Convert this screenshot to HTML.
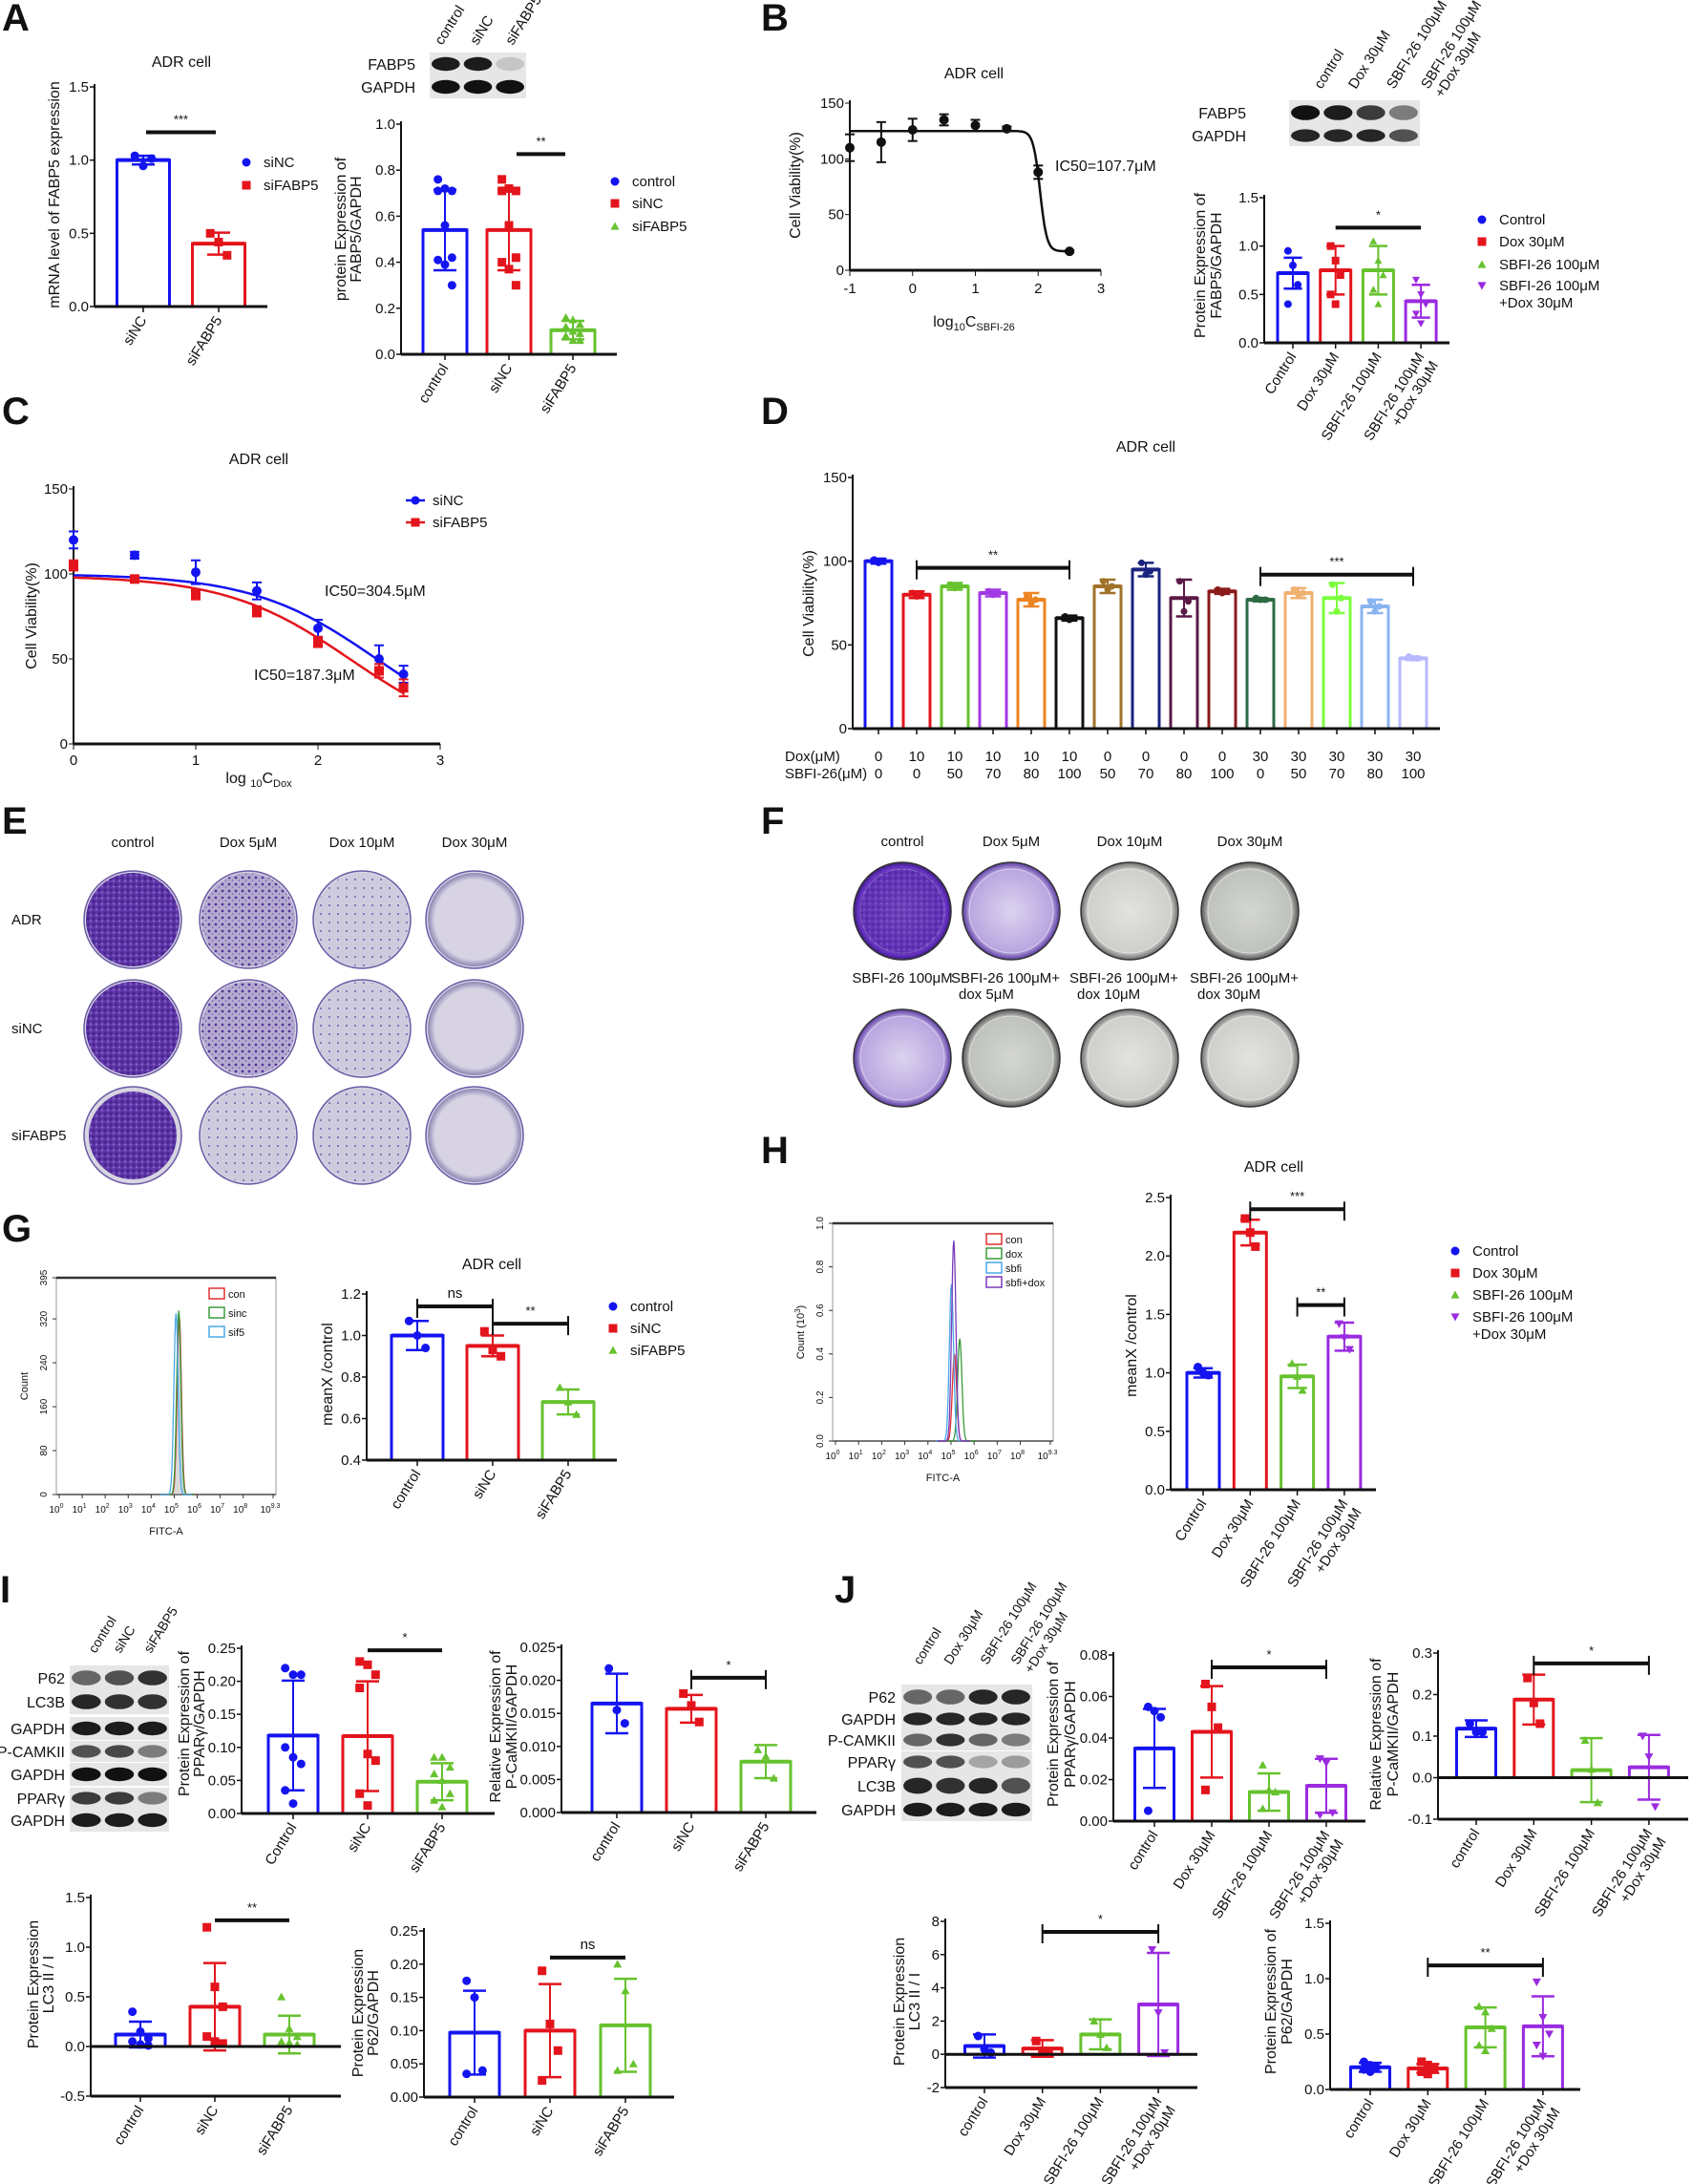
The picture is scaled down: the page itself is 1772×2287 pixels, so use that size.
<!DOCTYPE html>
<html><head><meta charset="utf-8"><style>
html,body{margin:0;padding:0;background:#fff}
svg{display:block}
text{font-family:"Liberation Sans Narrow","Liberation Sans",Arial,sans-serif;fill:#111}
</style></head><body>
<svg id="fig" xmlns="http://www.w3.org/2000/svg" width="1772" height="2287" viewBox="0 0 1772 2287">
<defs>
<pattern id="dotsDense" width="6" height="6" patternUnits="userSpaceOnUse"><rect width="6" height="6" fill="#5a2fa8"/><circle cx="2" cy="2" r="1.6" fill="#3d1a86"/><circle cx="5" cy="4.5" r="1" fill="#8d6cc8"/></pattern>
<pattern id="dotsMid" width="7" height="7" patternUnits="userSpaceOnUse"><rect width="7" height="7" fill="#b3a9cf"/><circle cx="2" cy="2" r="1.4" fill="#4c2b94"/><circle cx="5.5" cy="5" r="0.8" fill="#6b4fb0"/></pattern>
<pattern id="dotsLight" width="9" height="9" patternUnits="userSpaceOnUse"><rect width="9" height="9" fill="#cfcadf"/><circle cx="3" cy="3" r="1" fill="#6a54a8"/></pattern>
<radialGradient id="plateE0" cx="50%" cy="50%" r="50%"><stop offset="85%" stop-color="#d7d3e3"/><stop offset="100%" stop-color="#8d86b4"/></radialGradient>
<radialGradient id="fPurple" cx="50%" cy="50%" r="50%"><stop offset="0%" stop-color="#8a5ad6"/><stop offset="90%" stop-color="#6b35c8"/><stop offset="100%" stop-color="#3a1a80"/></radialGradient>
<radialGradient id="fLav" cx="50%" cy="50%" r="50%"><stop offset="0%" stop-color="#dcd3ef"/><stop offset="85%" stop-color="#b9a6e0"/><stop offset="100%" stop-color="#5a3aa0"/></radialGradient>
<radialGradient id="fGray" cx="50%" cy="50%" r="50%"><stop offset="0%" stop-color="#e2e2e0"/><stop offset="85%" stop-color="#cfcfcc"/><stop offset="100%" stop-color="#6a6a6a"/></radialGradient>
<radialGradient id="fGray2" cx="50%" cy="50%" r="50%"><stop offset="0%" stop-color="#d4d6d2"/><stop offset="85%" stop-color="#bfc2bd"/><stop offset="100%" stop-color="#555"/></radialGradient>
</defs>
</svg>
<script>
// ================= DATA =================
const A1_cats=['siNC','siFABP5'];
const A1_vals=[1.0,0.43];
const A1_errs=[0.03,0.075];
const A1_pts=[[1.03,0.96,1.01],[0.5,0.44,0.35]];
const A1_ticks=[0,0.5,1.0,1.5];

const A2_cats=['control','siNC','siFABP5'];
const A2_vals=[0.54,0.54,0.105];
const A2_errs=[0.175,0.175,0.04];
const A2_pts=[[0.76,0.72,0.71,0.71,0.56,0.42,0.41,0.39,0.3],[0.76,0.72,0.71,0.71,0.56,0.42,0.40,0.37,0.3],[0.16,0.15,0.13,0.12,0.1,0.09,0.08,0.06,0.06]];
const A2_ticks=[0,0.2,0.4,0.6,0.8,1.0];

const B1_x=[-1,-0.5,0,0.5,1,1.5,2,2.5];
const B1_y=[110,115,126,135,130,127,88,17];
const B1_err=[12,18,10,5,5,2,6,1];
const B1_fit=[125,17,2.03,8];   // top, bottom, logIC50, hill
const B1_xticks=[-1,0,1,2,3];
const B1_yticks=[0,50,100,150];

const B2_cats=['Control','Dox 30μM','SBFI-26 100μM','SBFI-26 100μM\n+Dox 30μM'];
const B2_vals=[0.72,0.75,0.75,0.43];
const B2_errs=[0.16,0.25,0.25,0.17];
const B2_pts=[[0.95,0.8,0.6,0.4],[1.0,0.85,0.7,0.5,0.4],[1.05,0.85,0.7,0.55,0.4],[0.65,0.5,0.4,0.3,0.2]];
const B2_ticks=[0,0.5,1.0,1.5];

const C_x=[0,0.5,1,1.5,2,2.5,2.7];
const C_siNC=[120,111,101,90,68,50,41];
const C_siNCerr=[5,2,7,5,5,8,5];
const C_siF=[105,97,88,78,60,43,33];
const C_siFerr=[3,1,3,3,3,4,5];
const C_top=[100,99];
const C_logIC50=[2.48,2.27];
const C_hill=[0.85,0.85];
const C_xticks=[0,1,2,3];
const C_yticks=[0,50,100,150];

const D_dox=['0','10','10','10','10','10','0','0','0','0','30','30','30','30','30'];
const D_sbfi=['0','0','50','70','80','100','50','70','80','100','0','50','70','80','100'];
const D_vals=[100,80,85,81,77,66,85,95,78,82,77,81,78,73,42];
const D_errs=[1.5,2,2,2,4,1.5,4,4,11,1.5,1,3,9,4,1];
const D_pts=[[101,99,100],[81,79,80],[86,84,85],[82,80,81],[79,75,77],[67,65,66],[88,83,85],[99,92,94],[88,70,76],[83,81,82],[78,77,77],[83,80,81],[86,70,78],[76,70,73],[43,42,42]];
const D_ticks=[0,50,100,150];

const G_cats=['control','siNC','siFABP5'];
const G_vals=[1.0,0.95,0.68];
const G_errs=[0.07,0.05,0.06];
const G_pts=[[1.07,1.0,0.94],[1.02,0.93,0.9],[0.75,0.68,0.62]];
const G_ticks=[0.4,0.6,0.8,1.0,1.2];
const G_histPos=[5.22,5.2,5.08];
const G_histH=[325,335,330];

const H_cats=['Control','Dox 30μM','SBFI-26 100μM','SBFI-26 100μM\n+Dox 30μM'];
const H_vals=[1.0,2.2,0.97,1.31];
const H_errs=[0.04,0.11,0.1,0.12];
const H_pts=[[1.05,1.0,0.98],[2.32,2.2,2.08],[1.08,0.97,0.85],[1.42,1.3,1.2]];
const H_ticks=[0,0.5,1.0,1.5,2.0,2.5];
const H_histPos=[5.15,5.38,5.02,5.12];
const H_histH=[0.4,0.47,0.72,0.92];

const I1_cats=['Control','siNC','siFABP5'];
const I1_vals=[0.118,0.117,0.048];
const I1_errs=[0.083,0.083,0.028];
const I1_pts=[[0.22,0.21,0.21,0.1,0.085,0.075,0.035,0.015],[0.23,0.225,0.21,0.19,0.09,0.08,0.03,0.012],[0.085,0.085,0.07,0.06,0.05,0.03,0.02,0.01]];
const I1_ticks=[0,0.05,0.10,0.15,0.20,0.25];

const I2_cats=['control','siNC','siFABP5'];
const I2_vals=[0.0165,0.0157,0.0077];
const I2_errs=[0.0045,0.0021,0.0025];
const I2_pts=[[0.0218,0.0155,0.0135],[0.018,0.0162,0.0137],[0.0095,0.0085,0.0052]];
const I2_ticks=[0,0.005,0.010,0.015,0.020,0.025];

const J1_cats=['control','Dox 30μM','SBFI-26 100μM','SBFI-26 100μM\n+Dox 30μM'];
const J1_vals=[0.035,0.043,0.014,0.017];
const J1_errs=[0.019,0.022,0.009,0.013];
const J1_pts=[[0.055,0.053,0.05,0.005],[0.066,0.055,0.045,0.015],[0.027,0.015,0.014,0.006],[0.03,0.028,0.004,0.003]];
const J1_ticks=[0,0.02,0.04,0.06,0.08];

const J2_cats=['control','Dox 30μM','SBFI-26 100μM','SBFI-26 100μM\n+Dox 30μM'];
const J2_vals=[0.118,0.188,0.018,0.025];
const J2_errs=[0.02,0.06,0.077,0.078];
const J2_pts=[[0.13,0.11,0.11],[0.24,0.18,0.13],[0.09,0.02,-0.06],[0.1,0.05,-0.07]];
const J2_ticks=[-0.1,0,0.1,0.2,0.3];

const I3_cats=['control','siNC','siFABP5'];
const I3_vals=[0.12,0.4,0.12];
const I3_errs=[0.13,0.44,0.19];
const I3_pts=[[0.35,0.15,0.08,0.05,0.02,0.01],[1.2,0.6,0.4,0.1,0.05,0.03],[0.5,0.18,0.1,0.05,0.04,0.02]];
const I3_ticks=[-0.5,0,0.5,1.0,1.5];

const I4_cats=['control','siNC','siFABP5'];
const I4_vals=[0.097,0.1,0.108];
const I4_errs=[0.063,0.07,0.07];
const I4_pts=[[0.175,0.15,0.04,0.035],[0.19,0.11,0.07,0.025],[0.2,0.16,0.05,0.04]];
const I4_ticks=[0,0.05,0.10,0.15,0.20,0.25];

const J3_cats=['control','Dox 30μM','SBFI-26 100μM','SBFI-26 100μM\n+Dox 30μM'];
const J3_vals=[0.5,0.35,1.2,3.0];
const J3_errs=[0.7,0.5,0.9,3.1];
const J3_pts=[[1.1,0.3,0.1],[0.8,0.2,0.1],[2.0,1.2,0.4],[6.3,2.5,0.1]];
const J3_ticks=[-2,0,2,4,6,8];

const J4_cats=['control','Dox 30μM','SBFI-26 100μM','SBFI-26 100μM\n+Dox 30μM'];
const J4_vals=[0.2,0.19,0.56,0.57];
const J4_errs=[0.04,0.04,0.18,0.27];
const J4_pts=[[0.25,0.22,0.2,0.18,0.16],[0.25,0.22,0.19,0.16,0.14],[0.75,0.7,0.55,0.4,0.35],[0.97,0.65,0.5,0.4,0.3]];
const J4_ticks=[0,0.5,1.0,1.5];

// ================= HELPERS =================
const NS='http://www.w3.org/2000/svg';
const svg=document.getElementById('fig');
const BLUE='#1414f0',RED='#e3141c',GREEN='#66c22e',PURPLE='#9a2be0';
const C4=[BLUE,RED,GREEN,PURPLE];
const M4=['circle','square','tri','itri'];
function mk(tag,attrs,parent){const e=document.createElementNS(NS,tag);for(const k in attrs)e.setAttribute(k,attrs[k]);(parent||svg).appendChild(e);return e;}
function txt(s,x,y,size,parent,extra){const t=mk('text',Object.assign({x:x,y:y,'font-size':size},extra||{}),parent);t.textContent=s;return t;}
function marker(type,x,y,color,parent,s){s=s||5;
  if(type==='circle')return mk('circle',{cx:x,cy:y,r:s,fill:color},parent);
  if(type==='square')return mk('rect',{x:x-s,y:y-s,width:2*s,height:2*s,fill:color},parent);
  if(type==='tri')return mk('polygon',{points:`${x},${y-s} ${x-s},${y+s*0.8} ${x+s},${y+s*0.8}`,fill:color},parent);
  return mk('polygon',{points:`${x},${y+s} ${x-s},${y-s*0.8} ${x+s},${y-s*0.8}`,fill:color},parent);
}
function fmt(v,d){return v.toFixed(d);}
function ylabel(lines,xs,y,parent,size){
  lines.forEach((l,i)=>{const t=txt(l,xs[i],y,size||16,parent,{'text-anchor':'middle',transform:`rotate(-90 ${xs[i]} ${y})`,'font-family':'Liberation Sans, sans-serif'});
  
  });
}
function legend(items,x,ys,parent,size){
  items.forEach((it,i)=>{const m=marker(it[2],x,ys[i],it[1],parent,4.5);
    
    
    const parts=it[0].split('\n');
    parts.forEach((p,k)=>{const t=txt(p,x+18,ys[i]+5+k*18,size||15,parent);
      
      });
  });
}
function panelLetter(s,x,y){const t=txt(s,x,y,40,svg,{'font-weight':'bold','font-family':'Liberation Sans, sans-serif'});
  
  }
function title(s,x,y){const t=txt(s,x,y,16,svg,{'text-anchor':'middle'});
  
  }

function barChart(c){
  const g=mk('g',{});
  
  
  const Y=v=>c.yBot-(v-c.ymin)/(c.ymax-c.ymin)*(c.yBot-c.yTop);
  const X=i=>c.cx0+i*c.step;
  const colors=c.colors||C4, markers=c.markers||M4;
  const base=Y(Math.max(0,c.ymin));
  c.vals.forEach((v,i)=>{
    const y=Y(v);const x=X(i);
    const r=mk('rect',{x:x-c.bw/2,y:Math.min(y,base),width:c.bw,height:Math.abs(base-y),fill:'none',stroke:colors[i],'stroke-width':3},g);
    
    
    mk('line',{x1:x-c.bw/2,x2:x+c.bw/2,y1:y,y2:y,stroke:colors[i],'stroke-width':4},g);
    const e=c.errs[i];
    const eb=mk('g',{},g);
    
    
    mk('line',{x1:x,x2:x,y1:Y(v-e),y2:Y(v+e),stroke:colors[i],'stroke-width':2},eb);
    const cw=Math.min(12,c.bw*0.3);
    mk('line',{x1:x-cw,x2:x+cw,y1:Y(v+e),y2:Y(v+e),stroke:colors[i],'stroke-width':2.5},eb);
    mk('line',{x1:x-cw,x2:x+cw,y1:Y(v-e),y2:Y(v-e),stroke:colors[i],'stroke-width':2.5},eb);
    (c.pts[i]||[]).forEach((p,j)=>{
      const off=((j%3)-1)*c.bw*0.16;
      const m=marker(markers[i],x+off,Y(p),colors[i],g,c.ms||4.5);
      
      
    });
  });
  const ya=mk('line',{x1:c.ax,x2:c.ax,y1:c.yTop-3,y2:c.yBot,stroke:'#111','stroke-width':2},g);
  
  
  c.ticks.forEach(t=>{const y=Y(t);
    mk('line',{x1:c.ax-5,x2:c.ax,y1:y,y2:y,stroke:'#111','stroke-width':1.5},g);
    const tl=txt(fmt(t,c.dec),c.ax-6,y+5,c.fs||15,g,{'text-anchor':'end'});
    
    
  });
  const xa=mk('line',{x1:c.ax,x2:c.xEnd,y1:c.yBot,y2:c.yBot,stroke:'#111','stroke-width':3},g);
  
  
  if(c.ymin<0) mk('line',{x1:c.ax,x2:c.xEnd,y1:base,y2:base,stroke:'#111','stroke-width':3},g);
  c.vals.forEach((v,i)=>{const x=X(i);
    mk('line',{x1:x,x2:x,y1:c.yBot,y2:c.yBot+6,stroke:'#111','stroke-width':1.5},g);
    if(c.cats){
      const lx=x+4, ly=c.yBot+14;
      const t=mk('text',{x:lx,y:ly,'font-size':c.cfs||15,'text-anchor':'end',transform:`rotate(-58 ${lx} ${ly})`},g);
      
      
      c.cats[i].split('\n').forEach((p,k)=>{const ts=mk('tspan',{x:lx,dy:k?17:0},t);ts.textContent=p;});
    }
  });
  (c.sig||[]).forEach(s=>{
    const x1=X(s[0])+(s[4]||0),x2=X(s[1])-(s[4]||0),y=Y(s[2]);
    const sg=mk('g',{},g);
    
    
    mk('line',{x1:x1,x2:x2,y1:y,y2:y,stroke:'#111','stroke-width':4},sg);
    if(s[5]){mk('line',{x1:x1,x2:x1,y1:y-8,y2:y+12,stroke:'#111','stroke-width':2},sg);mk('line',{x1:x2,x2:x2,y1:y-8,y2:y+12,stroke:'#111','stroke-width':2},sg);}
    txt(s[3],(x1+x2)/2,y-9,s[3]==='ns'?15:13,sg,{'text-anchor':'middle'});
  });
  return {g,X,Y};
}

function blot(name,x,w,rows,labelX,parent){
  const g=mk('g',{},parent);
  
  
  rows.forEach(r=>{
    const [label,y,h,ints]=r;
    mk('rect',{x:x,y:y-h/2,width:w,height:h,fill:'#e6e6e6'},g);
    const bw=w/ints.length;
    ints.forEach((v,i)=>{
      mk('ellipse',{cx:x+bw*(i+0.5),cy:y,rx:bw*0.44,ry:h*0.3,fill:'#111','fill-opacity':v},g);
    });
    const t=txt(label,labelX,y+6,16,g,{'text-anchor':'end'});
    
    
  });
  return g;
}
function topLabels(labels,xs,y,parent,size){
  labels.forEach((l,i)=>{
    const t=mk('text',{x:xs[i],y:y,'font-size':size||15,transform:`rotate(-58 ${xs[i]} ${y})`},parent);
    
    
    l.split('\n').forEach((p,k)=>{const ts=mk('tspan',{x:xs[i],dy:k?17:0},t);ts.textContent=p;});
  });
}

// ================= PANEL A =================
panelLetter('A',2,32);
title('ADR cell',190,70);
barChart({name:'chart-a-mrna',ax:99,xEnd:280,yTop:91,yBot:321,ymin:0,ymax:1.5,ticks:A1_ticks,dec:1,cats:A1_cats,vals:A1_vals,errs:A1_errs,pts:A1_pts,cx0:150,step:79,bw:55,sig:[[0,1,1.19,'***',3]]});
ylabel(['mRNA level of FABP5 expression'],[62],204);
legend([['siNC',BLUE,'circle'],['siFABP5',RED,'square']],258,[170,194]);
blot('blot-a',450,101,[['FABP5',67,24,[0.95,0.95,0.15]],['GAPDH',91,24,[1,1,1]]],435);
topLabels(['control','siNC','siFABP5'],[463,500,537],48,svg);
barChart({name:'chart-a-protein',ax:420,xEnd:646,yTop:130,yBot:371,ymin:0,ymax:1.0,ticks:A2_ticks,dec:1,cats:A2_cats,vals:A2_vals,errs:A2_errs,pts:A2_pts,cx0:466,step:67,bw:46,sig:[[1,2,0.87,'**',8]]});
ylabel(['protein Expression of','FABP5/GAPDH'],[362,378],240);
legend([['control',BLUE,'circle'],['siNC',RED,'square'],['siFABP5',GREEN,'tri']],644,[190,213,237]);

// ================= PANEL B =================
panelLetter('B',797,32);
title('ADR cell',1020,82);
(function(){
  const g=mk('g',{});
  
  
  const ax=890,x3=1153,yT=108,yB=283;
  const X=v=>ax+(v-(-1))*(x3-ax)/4;
  const Y=v=>yB-v/150*(yB-yT);
  mk('line',{x1:ax,x2:ax,y1:yT-3,y2:yB,stroke:'#111','stroke-width':2},g);
  mk('line',{x1:ax,x2:x3,y1:yB,y2:yB,stroke:'#111','stroke-width':3},g);
  B1_yticks.forEach(t=>{mk('line',{x1:ax-5,x2:ax,y1:Y(t),y2:Y(t),stroke:'#111'},g);const l=txt(String(t),ax-6,Y(t)+5,15,g,{'text-anchor':'end'});});
  B1_xticks.forEach(t=>{mk('line',{x1:X(t),x2:X(t),y1:yB,y2:yB+6,stroke:'#111'},g);const l=txt(String(t),X(t),yB+24,15,g,{'text-anchor':'middle'});});
  const [top,bot,lic,h]=B1_fit;let d='';
  for(let k=0;k<=140;k++){const xv=-1+k*3.5/140;const yv=bot+(top-bot)/(1+Math.pow(10,(xv-lic)*h));d+=(k?'L':'M')+X(xv).toFixed(1)+','+Y(yv).toFixed(1);}
  const cv=mk('path',{d:d,fill:'none',stroke:'#111','stroke-width':2.5},g);
  
  
  B1_x.forEach((xv,i)=>{
    const x=X(xv),y=Y(B1_y[i]),e=B1_err[i];
    mk('line',{x1:x,x2:x,y1:Y(B1_y[i]-e),y2:Y(B1_y[i]+e),stroke:'#111','stroke-width':2},g);
    mk('line',{x1:x-5,x2:x+5,y1:Y(B1_y[i]-e),y2:Y(B1_y[i]-e),stroke:'#111','stroke-width':2},g);
    mk('line',{x1:x-5,x2:x+5,y1:Y(B1_y[i]+e),y2:Y(B1_y[i]+e),stroke:'#111','stroke-width':2},g);
    const p=mk('circle',{cx:x,cy:y,r:5,fill:'#111'},g);
    
    
  });
  txt('IC50=107.7μM',1105,179,16,g);
  const xl=mk('text',{x:1020,y:342,'font-size':16,'text-anchor':'middle'},g);
  
  
  xl.innerHTML='log<tspan font-size="11" dy="4">10</tspan><tspan dy="-4">C</tspan><tspan font-size="11" dy="4">SBFI-26</tspan>';
})();
ylabel(['Cell Viability(%)'],[838],194);
blot('blot-b',1350,137,[['FABP5',118,26,[1,0.95,0.8,0.5]],['GAPDH',142,22,[0.9,0.9,0.9,0.7]]],1305);
topLabels(['control','Dox 30μM','SBFI-26 100μM','SBFI-26 100μM\n+Dox 30μM'],[1384,1420,1460,1496],94,svg);
barChart({name:'chart-b-protein',ax:1324,xEnd:1518,yTop:207,yBot:359,ymin:0,ymax:1.5,ticks:B2_ticks,dec:1,cats:B2_cats,vals:B2_vals,errs:B2_errs,pts:B2_pts,cx0:1354,step:44.7,bw:32,ms:4,sig:[[1,3,1.19,'*']]});
ylabel(['Protein Expression of','FABP5/GAPDH'],[1262,1279],278);
legend([['Control',BLUE,'circle'],['Dox 30μM',RED,'square'],['SBFI-26 100μM',GREEN,'tri'],['SBFI-26 100μM\n+Dox 30μM',PURPLE,'itri']],1552,[230,253,277,299]);

// ================= PANEL C =================
panelLetter('C',2,444);
title('ADR cell',271,486);
(function(){
  const g=mk('g',{});
  
  
  const ax=77,x3=461,yT=512,yB=779;
  const X=v=>ax+v*(x3-ax)/3;
  const Y=v=>yB-v/150*(yB-yT);
  mk('line',{x1:ax,x2:ax,y1:yT-3,y2:yB,stroke:'#111','stroke-width':2},g);
  mk('line',{x1:ax,x2:x3,y1:yB,y2:yB,stroke:'#111','stroke-width':3},g);
  C_yticks.forEach(t=>{mk('line',{x1:ax-5,x2:ax,y1:Y(t),y2:Y(t),stroke:'#111'},g);const l=txt(String(t),ax-6,Y(t)+5,15,g,{'text-anchor':'end'});});
  C_xticks.forEach(t=>{mk('line',{x1:X(t),x2:X(t),y1:yB,y2:yB+6,stroke:'#111'},g);const l=txt(String(t),X(t),yB+22,15,g,{'text-anchor':'middle'});});
  const series=[[C_siNC,C_siNCerr,BLUE,'circle','siNC'],[C_siF,C_siFerr,RED,'square','siFABP5']];
  series.forEach((s,si)=>{
    let d='';
    for(let k=0;k<=100;k++){const xv=k*2.7/100;const yv=C_top[si]/(1+Math.pow(10,(xv-C_logIC50[si])*C_hill[si]));d+=(k?'L':'M')+X(xv).toFixed(1)+','+Y(yv).toFixed(1);}
    const cv=mk('path',{d:d,fill:'none',stroke:s[2],'stroke-width':2.5},g);
    
    
    C_x.forEach((xv,i)=>{
      const x=X(xv),v=s[0][i],e=s[1][i];
      mk('line',{x1:x,x2:x,y1:Y(v-e),y2:Y(v+e),stroke:s[2],'stroke-width':2},g);
      mk('line',{x1:x-5,x2:x+5,y1:Y(v-e),y2:Y(v-e),stroke:s[2],'stroke-width':2},g);
      mk('line',{x1:x-5,x2:x+5,y1:Y(v+e),y2:Y(v+e),stroke:s[2],'stroke-width':2},g);
      const m=marker(s[3],x,Y(v),s[2],g,5);
      
      
    });
  });
  [[BLUE,'circle','siNC',524],[RED,'square','siFABP5',547]].forEach(l=>{
    mk('line',{x1:425,x2:445,y1:l[3],y2:l[3],stroke:l[0],'stroke-width':2.5},g);
    marker(l[1],435,l[3],l[0],g,4.5);
    const t=txt(l[2],453,l[3]+5,15,g);
    
    
  });
  txt('IC50=304.5μM',340,624,16,g);
  txt('IC50=187.3μM',266,712,16,g);
  const xl=mk('text',{x:271,y:820,'font-size':16,'text-anchor':'middle'},g);
  
  
  xl.innerHTML='log <tspan font-size="11" dy="4">10</tspan><tspan dy="-4">C</tspan><tspan font-size="11" dy="4">Dox</tspan>';
})();
ylabel(['Cell Viability(%)'],[38],645);

// ================= PANEL D =================
panelLetter('D',797,444);
title('ADR cell',1200,473);
const D_colors=[BLUE,RED,GREEN,'#a23ae6','#ec8422','#111','#a0722a','#1a237e','#5a1848','#8b1a1a','#2e6b45','#f0b070','#7cff3c','#8ab4f0','#b8b8ff'];
const dch=barChart({name:'chart-d-viability',ax:893,xEnd:1508,yTop:500,yBot:763,ymin:0,ymax:150,ticks:D_ticks,dec:0,vals:D_vals,errs:D_errs,pts:D_pts,cx0:920,step:40,bw:28,ms:3.5,colors:D_colors,markers:D_colors.map(()=> 'circle'),sig:[[1,5,96,'**',0,true],[10,14,92,'***',0,true]]});
ylabel(['Cell Viability(%)'],[852],632);
const dh1=txt('Dox(μM)',822,797,15,svg);


const dh2=txt('SBFI-26(μM)',822,815,15,svg);


D_dox.forEach((s,i)=>{const t=txt(s,dch.X(i),797,15,svg,{'text-anchor':'middle'});
  
  });
D_sbfi.forEach((s,i)=>{const t=txt(s,dch.X(i),815,15,svg,{'text-anchor':'middle'});
  
  });

// ================= PANEL E =================
panelLetter('E',2,873);
(function(){
  const g=mk('g',{});
  
  
  const cols=['control','Dox 5μM','Dox 10μM','Dox 30μM'];const cx=[139,260,379,497];
  const rows=['ADR','siNC','siFABP5'];const cy=[963,1077,1189];
  const fills=[['url(#dotsDense)','url(#dotsMid)','url(#dotsLight)','url(#plateE0)'],['url(#dotsDense)','url(#dotsMid)','url(#dotsLight)','url(#plateE0)'],['url(#dotsDense)','url(#dotsLight)','url(#dotsLight)','url(#plateE0)']];
  cols.forEach((c,i)=>{const t=txt(c,cx[i],887,15,g,{'text-anchor':'middle'});});
  rows.forEach((r,j)=>{const t=txt(r,12,cy[j]+5,15,g);
    cx.forEach((x,i)=>{
      mk('circle',{cx:x,cy:cy[j],r:51,fill:'#d8d5e2',stroke:'#6a5aa6','stroke-width':1.5},g);
      const p=mk('circle',{cx:x,cy:cy[j],r:j===2&&i===0?46:49,fill:fills[j][i],'fill-opacity':i===3?1:0.95},g);
      
      
    });
  });
})();

// ================= PANEL F =================
panelLetter('F',797,873);
(function(){
  const g=mk('g',{});
  
  
  const cx=[945,1059,1183,1309];
  const top=['control','Dox 5μM','Dox 10μM','Dox 30μM'];
  top.forEach((c,i)=>{const t=txt(c,cx[i],886,15,g,{'text-anchor':'middle'});});
  const l2=[['SBFI-26 100μM',''],['SBFI-26 100μM+','dox 5μM'],['SBFI-26 100μM+','dox 10μM'],['SBFI-26 100μM+','dox 30μM']];
  l2.forEach((c,i)=>{const t=txt(c[0],cx[i]-(i?6:0),1029,15,g,{'text-anchor':'middle'});
    if(c[1]){const t2=txt(c[1],cx[i]-55,1046,15,g);}});
  const f1=['url(#fPurple)','url(#fLav)','url(#fGray)','url(#fGray2)'];
  const f2=['url(#fLav)','url(#fGray2)','url(#fGray)','url(#fGray)'];
  [[954,f1],[1108,f2]].forEach(r=>{
    cx.forEach((x,i)=>{
      const p=mk('circle',{cx:x,cy:r[0],r:51,fill:r[1][i],stroke:'#333','stroke-width':1.5},g);
      
      
      mk('circle',{cx:x,cy:r[0],r:44,fill:'none',stroke:'#fff','stroke-opacity':0.5,'stroke-width':1},g);
    });
  });
  mk('circle',{cx:945,cy:954,r:45,fill:'url(#dotsDense)','fill-opacity':0.55},g);
})();

// ================= HISTOGRAMS =================
function histogram(name,box,xDec,yMax,yTicks,yDec,pos,heights,colors,fills,legendLabels,legendY,ylab){
  const g=mk('g',{});
  
  
  const [x0,y0,x1,y1]=box;
  mk('rect',{x:x0,y:y0,width:x1-x0,height:y1-y0,fill:'none',stroke:'#999','stroke-width':1},g);
  mk('line',{x1:x0,x2:x1,y1:y0,y2:y0,stroke:'#333','stroke-width':2.5},g);
  mk('line',{x1:x0,x2:x1,y1:y1,y2:y1,stroke:'#777','stroke-width':2},g);
  const X=d=>x0+3+d*(x1-x0-6)/9.3;
  const Y=v=>y1-v/yMax*(y1-y0);
  yTicks.forEach(t=>{mk('line',{x1:x0-4,x2:x0,y1:Y(t),y2:Y(t),stroke:'#333'},g);
    const l=txt(fmt(t,yDec),x0-10,Y(t),10,g,{'text-anchor':'middle',transform:`rotate(-90 ${x0-10} ${Y(t)})`});
    });
  xDec.forEach(d=>{mk('line',{x1:X(d),x2:X(d),y1:y1,y2:y1+4,stroke:'#333'},g);
    const l=mk('text',{x:X(d)-3,y:y1+19,'font-size':10,'text-anchor':'middle'},g);
    
    l.innerHTML='10<tspan font-size="7" dy="-5">'+d+'</tspan>';});
  pos.forEach((p,i)=>{
    let d='M'+X(p-0.7).toFixed(1)+','+y1;
    for(let k=0;k<=60;k++){const xv=p-0.7+k*1.4/60;const v=heights[i]*Math.exp(-Math.pow((xv-p)/0.13,2));d+='L'+X(xv).toFixed(1)+','+Y(v).toFixed(1);}
    const path=mk('path',{d:d,fill:fills[i],'fill-opacity':fills[i]==='none'?0:0.45,stroke:colors[i],'stroke-width':1.3},g);
    
    
  });
  legendLabels.forEach((l,i)=>{
    mk('rect',{x:x1-70,y:legendY[i]-7,width:16,height:11,fill:'none',stroke:colors[i],'stroke-width':1.5},g);
    const t=txt(l,x1-50,legendY[i]+3,11,g);
  });
  const xl=txt('FITC-A',(x0+x1)/2,y1+42,11,g,{'text-anchor':'middle'});
  
  const yl=mk('text',{x:x0-30,y:(y0+y1)/2,'font-size':11,'text-anchor':'middle',transform:`rotate(-90 ${x0-30} ${(y0+y1)/2})`},g);
  
  yl.innerHTML=ylab;
}

// ================= PANEL G =================
panelLetter('G',2,1300);
histogram('chart-g-flow-histogram',[59,1338,289,1565],[0,1,2,3,4,5,6,7,8,9.3],395,[0,80,160,240,320,395],0,G_histPos,G_histH,['#e03030','#3a9a3a','#4aa8e8'],['#aaa','none','none'],['con','sinc','sif5'],[1356,1376,1396],'Count');
title('ADR cell',515,1329);
barChart({name:'chart-g-meanx',ax:384,xEnd:646,yTop:1355,yBot:1529,ymin:0.4,ymax:1.2,ticks:G_ticks,dec:1,cats:G_cats,vals:G_vals,errs:G_errs,pts:G_pts,cx0:437,step:79,bw:54,sig:[[0,1,1.14,'ns',0,true],[1,2,1.057,'**',0,true]]});
ylabel(['meanX /control'],[348],1439);
legend([['control',BLUE,'circle'],['siNC',RED,'square'],['siFABP5',GREEN,'tri']],642,[1368,1391,1414]);

// ================= PANEL H =================
panelLetter('H',797,1218);
histogram('chart-h-flow-histogram',[872,1281,1103,1509],[0,1,2,3,4,5,6,7,8,9.3],1,[0,0.2,0.4,0.6,0.8,1],1,H_histPos,H_histH,['#e03030','#3a9a3a','#4aa8e8','#7a3ab8'],['none','none','none','none'],['con','dox','sbfi','sbfi+dox'],[1299,1314,1329,1344],'Count (10<tspan font-size="8" dy="-4">3</tspan><tspan dy="4">)</tspan>');
title('ADR cell',1334,1227);
barChart({name:'chart-h-meanx',ax:1226,xEnd:1441,yTop:1254,yBot:1560,ymin:0,ymax:2.5,ticks:H_ticks,dec:1,cats:H_cats,vals:H_vals,errs:H_errs,pts:H_pts,cx0:1260,step:49.3,bw:34,sig:[[1,3,2.4,'***',0,true],[2,3,1.58,'**',0,true]]});
ylabel(['meanX /control'],[1190],1409);
legend([['Control',BLUE,'circle'],['Dox 30μM',RED,'square'],['SBFI-26 100μM',GREEN,'tri'],['SBFI-26 100μM\n+Dox 30μM',PURPLE,'itri']],1524,[1310,1333,1356,1379]);

// ================= PANEL I =================
panelLetter('I',0,1678);
blot('blot-i',73,104,[['P62',1757,26,[0.6,0.7,0.85]],['LC3B',1782,26,[0.9,0.85,0.85]],['GAPDH',1810,24,[0.95,0.95,0.95]],['P-CAMKII',1834,22,[0.7,0.75,0.5]],['GAPDH',1858,24,[1,1,1]],['PPARγ',1883,22,[0.8,0.8,0.5]],['GAPDH',1906,24,[0.95,0.95,0.95]]],68);
topLabels(['control','siNC','siFABP5'],[100,126,158],1732,svg,14);
barChart({name:'chart-i-ppar',ax:253,xEnd:518,yTop:1726,yBot:1899,ymin:0,ymax:0.25,ticks:I1_ticks,dec:2,cats:I1_cats,vals:I1_vals,errs:I1_errs,pts:I1_pts,cx0:307,step:78,bw:52,sig:[[1,2,0.247,'*']]});
ylabel(['Protein Expression of','PPARγ/GAPDH'],[198,214],1805);
barChart({name:'chart-i-pcamkii',ax:588,xEnd:855,yTop:1725,yBot:1898,ymin:0,ymax:0.025,ticks:I2_ticks,dec:3,cats:I2_cats,vals:I2_vals,errs:I2_errs,pts:I2_pts,cx0:646,step:78,bw:52,sig:[[1,2,0.0204,'*',0,true]]});
ylabel(['Relative Expression of','P-CaMKII/GAPDH'],[524,541],1808);
barChart({name:'chart-i-lc3',ax:95,xEnd:357,yTop:1987,yBot:2195,ymin:-0.5,ymax:1.5,ticks:I3_ticks,dec:1,cats:I3_cats,vals:I3_vals,errs:I3_errs,pts:I3_pts,cx0:147,step:78,bw:52,sig:[[1,2,1.27,'**']]});
ylabel(['Protein Expression','LC3 II / I'],[40,56],2078);
barChart({name:'chart-i-p62',ax:444,xEnd:706,yTop:2022,yBot:2196,ymin:0,ymax:0.25,ticks:I4_ticks,dec:2,cats:I4_cats,vals:I4_vals,errs:I4_errs,pts:I4_pts,cx0:497,step:79,bw:52,sig:[[1,2,0.21,'ns']]});
ylabel(['Protein Expression','P62/GAPDH'],[380,396],2108);

// ================= PANEL J =================
panelLetter('J',874,1678);
blot('blot-j',944,137,[['P62',1777,26,[0.6,0.6,0.9,0.9]],['GAPDH',1800,22,[0.9,0.9,0.9,0.9]],['P-CAMKII',1822,22,[0.6,0.85,0.6,0.5]],['PPARγ',1845,22,[0.7,0.7,0.3,0.35]],['LC3B',1870,28,[0.9,0.85,0.9,0.7]],['GAPDH',1895,24,[0.95,0.95,0.95,0.95]]],938);
topLabels(['control','Dox 30μM','SBFI-26 100μM','SBFI-26 100μM\n+Dox 30μM'],[964,996,1034,1066],1744,svg,14);
barChart({name:'chart-j-ppar',ax:1166,xEnd:1430,yTop:1733,yBot:1907,ymin:0,ymax:0.08,ticks:J1_ticks,dec:2,cats:J1_cats,vals:J1_vals,errs:J1_errs,pts:J1_pts,cx0:1209,step:60,bw:41,sig:[[1,3,0.074,'*',0,true]]});
ylabel(['Protein Expression of','PPARγ/GAPDH'],[1108,1126],1816);
barChart({name:'chart-j-pcamkii',ax:1506,xEnd:1768,yTop:1731,yBot:1905,ymin:-0.1,ymax:0.3,ticks:J2_ticks,dec:1,cats:J2_cats,vals:J2_vals,errs:J2_errs,pts:J2_pts,cx0:1546,step:60.3,bw:41,sig:[[1,3,0.275,'*',0,true]]});
ylabel(['Relative Expression of','P-CaMKII/GAPDH'],[1446,1464],1816);
barChart({name:'chart-j-lc3',ax:990,xEnd:1254,yTop:2012,yBot:2186,ymin:-2,ymax:8,ticks:J3_ticks,dec:0,cats:J3_cats,vals:J3_vals,errs:J3_errs,pts:J3_pts,cx0:1031,step:60.7,bw:41,sig:[[1,3,7.37,'*',0,true]]});
ylabel(['Protein Expression','LC3 II / I'],[947,963],2096);
barChart({name:'chart-j-p62',ax:1393,xEnd:1655,yTop:2014,yBot:2188,ymin:0,ymax:1.5,ticks:J4_ticks,dec:1,cats:J4_cats,vals:J4_vals,errs:J4_errs,pts:J4_pts,cx0:1435,step:60.3,bw:41,sig:[[1,3,1.12,'**',0,true]]});
ylabel(['Protein Expression of','P62/GAPDH'],[1336,1353],2096);
</script>
</body></html>
